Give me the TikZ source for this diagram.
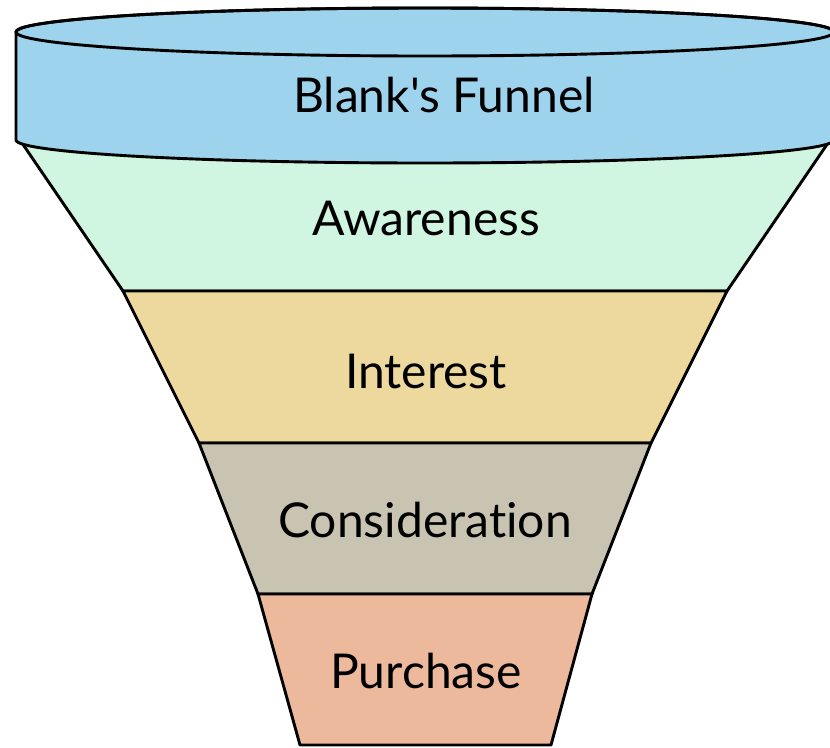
\documentclass[tikz,border=0pt]{standalone}
\usepackage{fontspec}
\setmainfont{Lato}[Ligatures={TeXOff,NoCommon}]
\definecolor{cylblue}{HTML}{9DD3EC}
\definecolor{awgreen}{HTML}{D0F5E0}
\definecolor{intyellow}{HTML}{EDD89E}
\definecolor{congrey}{HTML}{C9C4B2}
\definecolor{purpeach}{HTML}{ECB99C}
\begin{document}
\begin{tikzpicture}[x=1pt,y=-1pt,
  outline/.style={draw=black,line width=2.9pt,line join=round},
  label/.style={font=\fontsize{48}{56}\selectfont,anchor=base,inner sep=0pt}]
\useasboundingbox (0,0) rectangle (830,747);
% segments
\filldraw[outline,fill=awgreen] (22,143) -- (123,291) -- (727,291) -- (828,143) -- cycle;
\filldraw[outline,fill=intyellow] (123,291) -- (199,443) -- (651,443) -- (727,291) -- cycle;
\filldraw[outline,fill=congrey] (199,443) -- (258,594) -- (592,594) -- (651,443) -- cycle;
\filldraw[outline,fill=purpeach] (258,594) -- (300,745) -- (551,745) -- (592,594) -- cycle;
% cylinder
\filldraw[outline,fill=cylblue] (16,32) -- (16,140)
  arc[start angle=180,end angle=360,x radius=409pt,y radius=23pt] -- (834,32)
  arc[start angle=0,end angle=180,x radius=409pt,y radius=24pt] -- cycle;
\draw[outline] (425,32) ellipse[x radius=409pt,y radius=24pt];
% labels
\node[label] (title) at (444,112) {Blank's Funnel};
\node[label] (aw) at (426,235) {Awareness};
\node[label] (in) at (426,388) {Interest};
\node[label] (co) at (425,537) {Consideration};
\node[label] (pu) at (426,688) {Purchase};
\end{tikzpicture}
\end{document}
